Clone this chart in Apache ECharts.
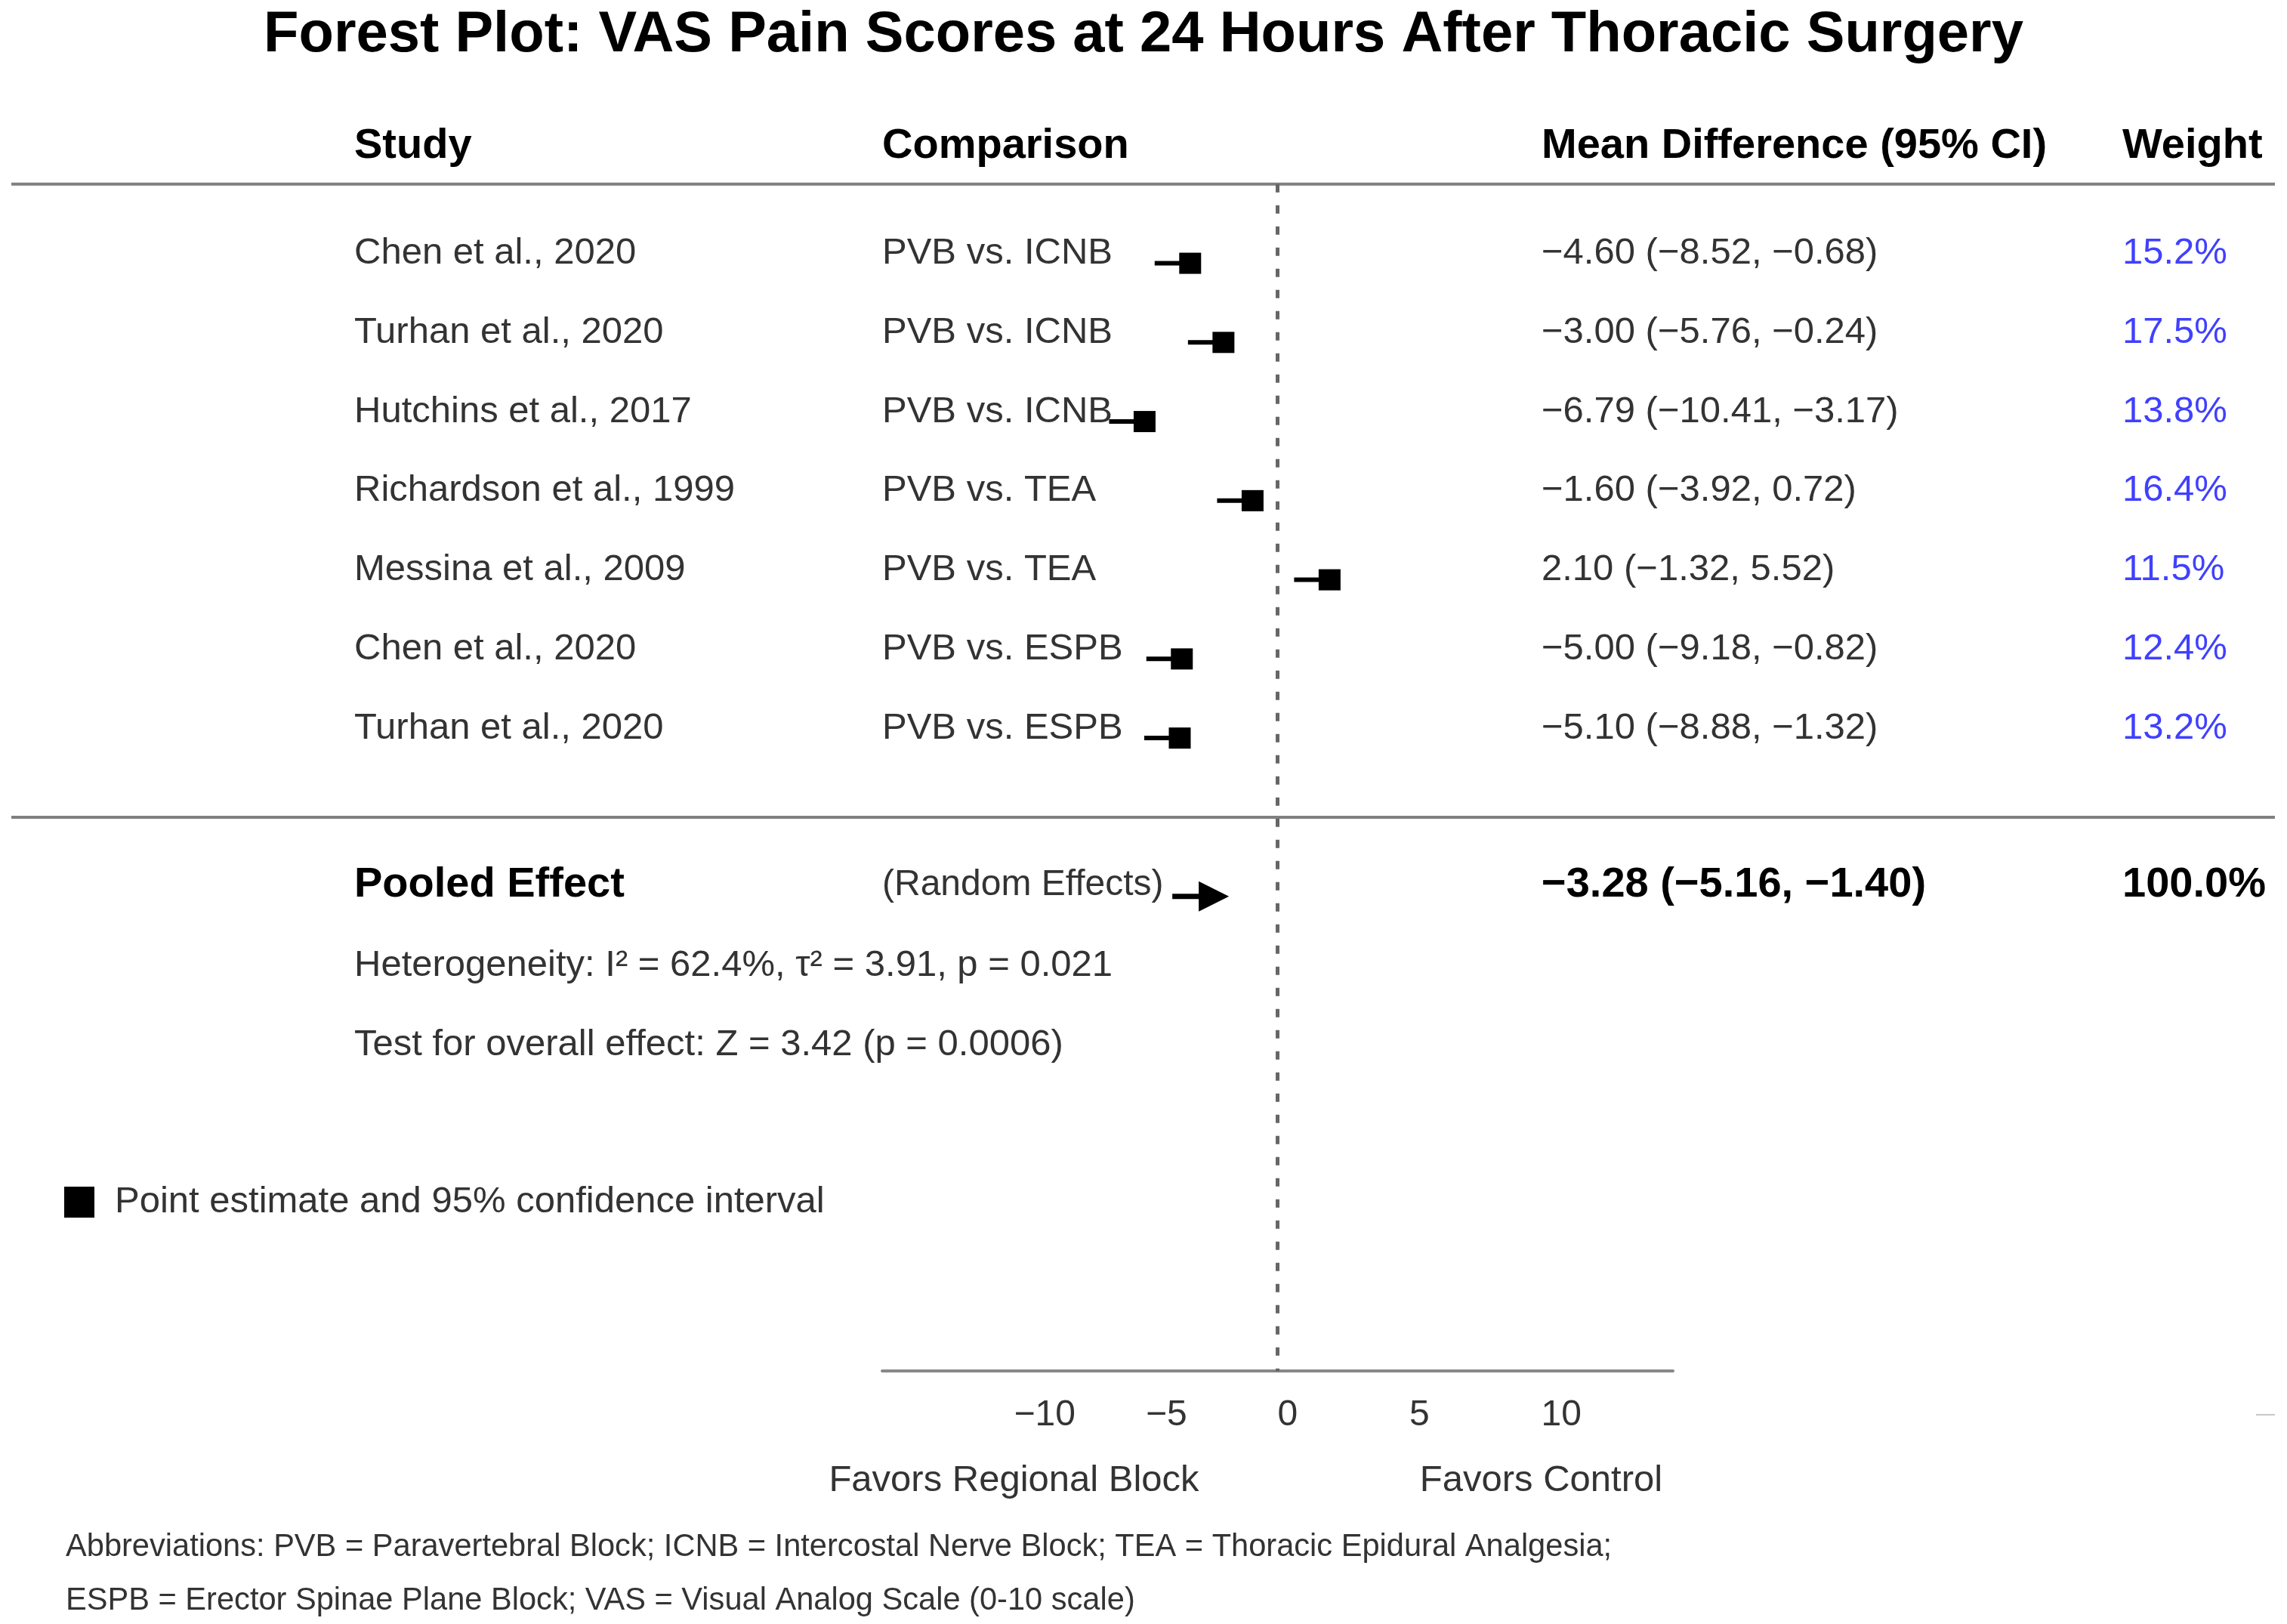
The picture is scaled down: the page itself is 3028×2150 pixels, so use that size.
<!DOCTYPE html>
<html>
<head>
<meta charset="utf-8">
<script src="https://cdn.jsdelivr.net/npm/echarts@6/dist/echarts.min.js"></script>
<style>html,body{margin:0;padding:0;background:#fff}#chart{width:3028px;height:2150px}</style>
</head>
<body>
<div id="chart"></div>
<script>
// ---------- data ----------
const studies = ['Chen et al., 2020', 'Turhan et al., 2020', 'Hutchins et al., 2017', 'Richardson et al., 1999', 'Messina et al., 2009', 'Chen et al., 2020', 'Turhan et al., 2020'];
const comparisons = ['PVB vs. ICNB', 'PVB vs. ICNB', 'PVB vs. ICNB', 'PVB vs. TEA', 'PVB vs. TEA', 'PVB vs. ESPB', 'PVB vs. ESPB'];
const meanDiff = [-4.60, -3.00, -6.79, -1.60, 2.10, -5.00, -5.10];
const ciLower = [-8.52, -5.76, -10.41, -3.92, -1.32, -9.18, -8.88];
const ciUpper = [-0.68, -0.24, -3.17, 0.72, 5.52, -0.82, -1.32];
const weights = [15.2, 17.5, 13.8, 16.4, 11.5, 12.4, 13.2];
const pooledMD = [-3.28];
const pooledCI = [-5.16, -1.40];
const pooledWeight = [100.0];
const heterogeneity = ['Heterogeneity: I\u00b2 = 62.4%, \u03c4\u00b2 = 3.91, p = 0.021'];
const overallEffect = ['Test for overall effect: Z = 3.42 (p = 0.0006)'];
const xTickLabels = [-10, -5, 0, 5, 10];
const favorLabels = [['Favors Regional Block', -10], ['Favors Control', 10]];
const headers = ['Study', 'Comparison', 'Mean Difference (95% CI)', 'Weight'];
const abbreviations = [
  'Abbreviations: PVB = Paravertebral Block; ICNB = Intercostal Nerve Block; TEA = Thoracic Epidural Analgesia;',
  'ESPB = Erector Spinae Plane Block; VAS = Visual Analog Scale (0-10 scale)'
];
const legendName = 'Point estimate and 95% confidence interval';

// ---------- layout / style ----------
const FONT = '"Liberation Sans", Arial, Helvetica, sans-serif';
const TXT = '#333333';
const COLX = [469, 1168, 2041, 2810];
const TEXT_DY = -13;
const POOLED_ROW = 8;
const fmt = v => (v < 0 ? '\u2212' : '') + Math.abs(v).toFixed(2);
const fmtTick = v => (v < 0 ? '\u2212' : '') + Math.abs(v);

const chart = echarts.init(document.getElementById('chart'));

function txt(text, x, y, size, weight, color, align) {
  return {
    type: 'text', silent: true,
    style: {
      text: text, x: x, y: y, fill: color || TXT, align: align || 'left', verticalAlign: 'middle',
      fontSize: size, fontWeight: weight || 'normal', fontFamily: FONT
    }
  };
}

const option = {
  backgroundColor: '#ffffff',
  animation: false,
  title: {
    text: 'Forest Plot: VAS Pain Scores at 24 Hours After Thoracic Surgery',
    left: 'center', top: 4,
    textStyle: { fontSize: 76, fontWeight: 'bold', color: '#000', fontFamily: FONT }
  },
  legend: {
    data: [{ name: legendName, icon: 'rect' }],
    left: 80, top: 1562, itemWidth: 40, itemHeight: 41, selectedMode: false,
    textStyle: { fontSize: 49, color: TXT, fontFamily: FONT, padding: [0, 0, 0, 22] }
  },
  grid: { left: 1168, right: 813, top: 243.8, bottom: 334.8 },
  xAxis: [
    {
      type: 'value', min: -15, max: 15, interval: 5, position: 'bottom',
      axisLine: { show: true, onZero: false, lineStyle: { color: '#888888', width: 4 } },
      axisTick: { show: false }, splitLine: { show: false },
      axisLabel: {
        fontSize: 48, color: TXT, fontFamily: FONT, align: 'left', margin: 35,
        formatter: v => (xTickLabels.indexOf(v) >= 0 ? fmtTick(v) : '')
      }
    },
    { type: 'value', min: -19.4, max: 18.6, show: false }
  ],
  yAxis: [{ type: 'value', inverse: true, min: -1, max: 14, show: false }],
  graphic: [
    txt(abbreviations[0], 87, 2049, 41.6, 'normal', TXT),
    txt(abbreviations[1], 87, 2120, 41.6, 'normal', TXT),
    { type: 'line', silent: true, shape: { x1: 2987, y1: 1873, x2: 3012, y2: 1873 }, style: { stroke: '#c8c8c8', lineWidth: 2 } }
  ],
  series: [
    // horizontal rules of the table
    {
      type: 'custom', name: 'rules', xAxisIndex: 0, yAxisIndex: 0, silent: true, z: 1,
      data: [[0, -1], [0, 7]],
      renderItem: function (params, api) {
        const y = api.coord([0, api.value(1)])[1];
        return { type: 'line', shape: { x1: 15, y1: y, x2: 3012, y2: y }, style: { stroke: '#808080', lineWidth: 4 } };
      }
    },
    // line of no effect
    {
      type: 'custom', name: 'zero', xAxisIndex: 0, yAxisIndex: 0, silent: true, z: 2,
      data: [[0, -1, 14]],
      renderItem: function (params, api) {
        const a = api.coord([api.value(0), api.value(1)]);
        const b = api.coord([api.value(0), api.value(2)]);
        return { type: 'line', shape: { x1: a[0], y1: a[1], x2: b[0], y2: b[1] }, style: { stroke: '#666666', lineWidth: 5, lineDash: [11, 17] } };
      }
    },
    // header row
    {
      type: 'custom', name: 'headers', xAxisIndex: 0, yAxisIndex: 0, silent: true, z: 5,
      data: headers.map((h, i) => [i, -1.36]),
      renderItem: function (params, api) {
        const i = api.value(0);
        const y = api.coord([0, api.value(1)])[1] + TEXT_DY;
        return txt(headers[i], COLX[i], y, 56, 'bold', '#000');
      }
    },
    // study rows text
    {
      type: 'custom', name: 'table', xAxisIndex: 0, yAxisIndex: 0, silent: true, z: 5,
      data: studies.map((s, i) => [i]),
      renderItem: function (params, api) {
        const i = params.dataIndex;
        const y = api.coord([0, i])[1] + TEXT_DY;
        return {
          type: 'group', children: [
            txt(studies[i], COLX[0], y, 49),
            txt(comparisons[i], COLX[1], y, 49),
            txt(fmt(meanDiff[i]) + ' (' + fmt(ciLower[i]) + ', ' + fmt(ciUpper[i]) + ')', COLX[2], y, 49),
            txt(weights[i].toFixed(1) + '%', COLX[3], y, 49, 'normal', '#4040ff')
          ]
        };
      }
    },
    // study point estimates
    {
      type: 'custom', name: legendName, xAxisIndex: 1, yAxisIndex: 0, silent: true, z: 10,
      itemStyle: { color: '#000' },
      data: meanDiff.map((v, i) => [v, i]),
      renderItem: function (params, api) {
        const p = api.coord([api.value(0), api.value(1)]);
        return {
          type: 'group', children: [
            { type: 'line', shape: { x1: p[0] - 47, y1: p[1], x2: p[0], y2: p[1] }, style: { stroke: '#000', lineWidth: 6 } },
            { type: 'rect', shape: { x: p[0] - 14.5, y: p[1] - 14, width: 29, height: 28 }, style: { fill: '#000' } }
          ]
        };
      }
    },
    // pooled effect row
    {
      type: 'custom', name: 'pooled', xAxisIndex: 1, yAxisIndex: 0, silent: true, z: 10,
      data: [[pooledMD[0], POOLED_ROW]],
      renderItem: function (params, api) {
        const p = api.coord([api.value(0), api.value(1)]);
        const y = p[1] + TEXT_DY - 2;
        return {
          type: 'group', children: [
            { type: 'line', shape: { x1: p[0] - 60, y1: p[1], x2: p[0] - 22, y2: p[1] }, style: { stroke: '#000', lineWidth: 7 } },
            { type: 'polygon', shape: { points: [[p[0] - 25, p[1] - 20], [p[0] + 15, p[1]], [p[0] - 25, p[1] + 20]] }, style: { fill: '#000' } },
            txt('Pooled Effect', COLX[0], y, 56, 'bold', '#000'),
            txt('(Random Effects)', COLX[1], y, 48, 'normal', TXT),
            txt(fmt(pooledMD[0]) + ' (' + fmt(pooledCI[0]) + ', ' + fmt(pooledCI[1]) + ')', COLX[2], y, 56, 'bold', '#000'),
            txt(pooledWeight[0].toFixed(1) + '%', COLX[3], y, 56, 'bold', '#000')
          ]
        };
      }
    },
    // statistics text
    {
      type: 'custom', name: 'stats', xAxisIndex: 0, yAxisIndex: 0, silent: true, z: 5,
      data: [[0, 9], [1, 10]],
      renderItem: function (params, api) {
        const y = api.coord([0, api.value(1)])[1] + TEXT_DY;
        const t = api.value(0) === 0 ? heterogeneity[0] : overallEffect[0];
        return txt(t, COLX[0], y, 49);
      }
    },
    // favours labels under the axis
    {
      type: 'custom', name: 'favors', xAxisIndex: 0, yAxisIndex: 0, silent: true, z: 5,
      data: favorLabels.map((f, i) => [f[1], 14]),
      renderItem: function (params, api) {
        const p = api.coord([api.value(0), api.value(1)]);
        return txt(favorLabels[params.dataIndex][0], p[0], p[1] + 145, 49, 'normal', TXT, 'center');
      }
    }
  ]
};
chart.setOption(option);
</script>
</body>
</html>
